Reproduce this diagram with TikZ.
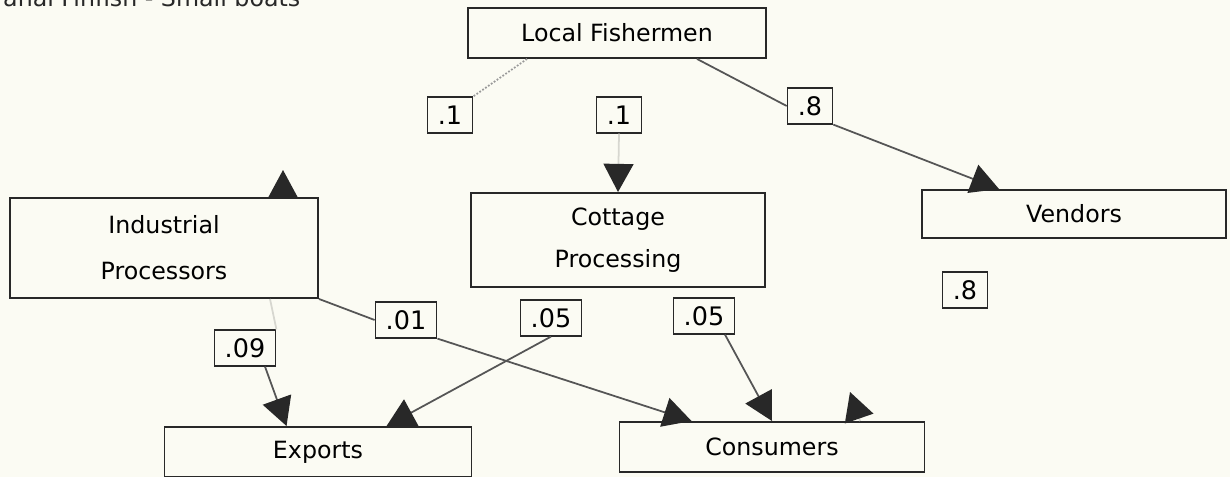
\documentclass[tikz,border=0pt]{standalone}
\usepackage{fontspec}
\setmainfont{DejaVu Sans}
\usetikzlibrary{arrows.meta}

\definecolor{paper}{RGB}{251,251,243}
\definecolor{ink}{RGB}{40,40,40}
\definecolor{pencil}{RGB}{85,85,85}
\definecolor{faint}{RGB}{215,215,208}

\tikzset{
  stage/.style={draw=ink, line width=1.1pt, align=center, font=\fontsize{13.5}{24}\selectfont},
  share/.style={draw=ink, line width=0.7pt, inner xsep=6pt, minimum height=0.72cm, font=\fontsize{14.5}{16}\selectfont},
  line/.style={draw=pencil, line width=1pt},
  flow/.style={line, -{Triangle[length=16pt,width=17pt,color=ink]}},
  faded/.style={flow, draw=faint}
}

\begin{document}
\begin{tikzpicture}[scale=1]

\useasboundingbox (0,0) rectangle (24.6,9.54);
\fill[paper] (0,0) rectangle (24.6,9.54);

\coordinate (local-fishermen) at (12.34,8.88);
\coordinate (cottage-processing) at (12.36,4.74);
\coordinate (industrial-processors) at (3.28,4.58);
\coordinate (vendors) at (21.48,5.26);
\coordinate (exports) at (6.36,0.5);
\coordinate (consumers) at (15.44,0.6);

\coordinate (fishermen-industrial) at (9.0,7.24);
\coordinate (fishermen-cottage) at (12.38,7.24);
\coordinate (fishermen-vendors) at (16.2,7.42);
\coordinate (vendors-consumers) at (19.3,3.74);
\coordinate (industrial-consumers) at (8.12,3.14);
\coordinate (industrial-exports) at (4.9,2.58);
\coordinate (cottage-exports) at (11.02,3.18);
\coordinate (cottage-consumers) at (14.08,3.22);

\coordinate (industrial-tip) at (5.66,6.14);
\coordinate (consumers-tip) at (17.0,1.7);

\node[anchor=base west, font=\fontsize{13.5}{16}\selectfont, text=ink] (title) at (-0.06,9.4) {anal Finfish - Small boats};

\node[stage, minimum width=5.96cm, minimum height=1cm] (local-fishermen-box) at (local-fishermen) {Local Fishermen};
\node[stage, minimum width=5.88cm, minimum height=1.88cm] (cottage-processing-box) at (cottage-processing) {Cottage\\Processing};
\node[stage, minimum width=6.16cm, minimum height=2cm, font=\fontsize{13.5}{26}\selectfont] (industrial-processors-box) at (industrial-processors) {Industrial\\Processors};
\node[stage, minimum width=6.08cm, minimum height=0.96cm] (vendors-box) at (vendors) {Vendors};
\node[stage, minimum width=6.14cm, minimum height=1cm] (exports-box) at (exports) {Exports};
\node[stage, minimum width=6.1cm, minimum height=1cm] (consumers-box) at (consumers) {Consumers};

\node[share] (fishermen-industrial-share) at (fishermen-industrial) {.1};
\node[share] (fishermen-cottage-share) at (fishermen-cottage) {.1};
\node[share] (fishermen-vendors-share) at (fishermen-vendors) {.8};
\node[share] (vendors-consumers-share) at (vendors-consumers) {.8};
\node[share] (industrial-consumers-share) at (industrial-consumers) {.01};
\node[share] (industrial-exports-share) at (industrial-exports) {.09};
\node[share] (cottage-exports-share) at (cottage-exports) {.05};
\node[share] (cottage-consumers-share) at (cottage-consumers) {.05};

\draw[line, densely dotted, draw=pencil!60] ([xshift=-1.8cm]local-fishermen-box.south) -- (fishermen-industrial-share.north east);
\draw[faded] ([xshift=2.38cm]industrial-processors-box.north) -- (industrial-tip);
\draw[faded] (fishermen-cottage-share.south) -- (cottage-processing-box.north);

\draw[line] ([xshift=1.6cm]local-fishermen-box.south) -- (fishermen-vendors-share.west);
\draw[flow] (fishermen-vendors-share.south east) -- ([xshift=1.56cm]vendors-box.north west);

\draw[line, draw=faint] ([xshift=2.12cm]industrial-processors-box.south) -- (industrial-exports-share.north east);
\draw[flow] ([xshift=0.4cm]industrial-exports-share.south) -- ([xshift=2.46cm]exports-box.north west);

\draw[line] (industrial-processors-box.south east) -- (industrial-consumers-share.west);
\draw[flow] (industrial-consumers-share.south east) -- ([xshift=1.46cm]consumers-box.north west);

\draw[flow] (cottage-exports-share.south) -- ([xshift=4.46cm]exports-box.north west);
\draw[flow] ([xshift=0.42cm]cottage-consumers-share.south) -- (consumers-box.north);

\draw[faded] ([xshift=1.76cm]consumers-box.north) -- (consumers-tip);

\end{tikzpicture}
\end{document}
